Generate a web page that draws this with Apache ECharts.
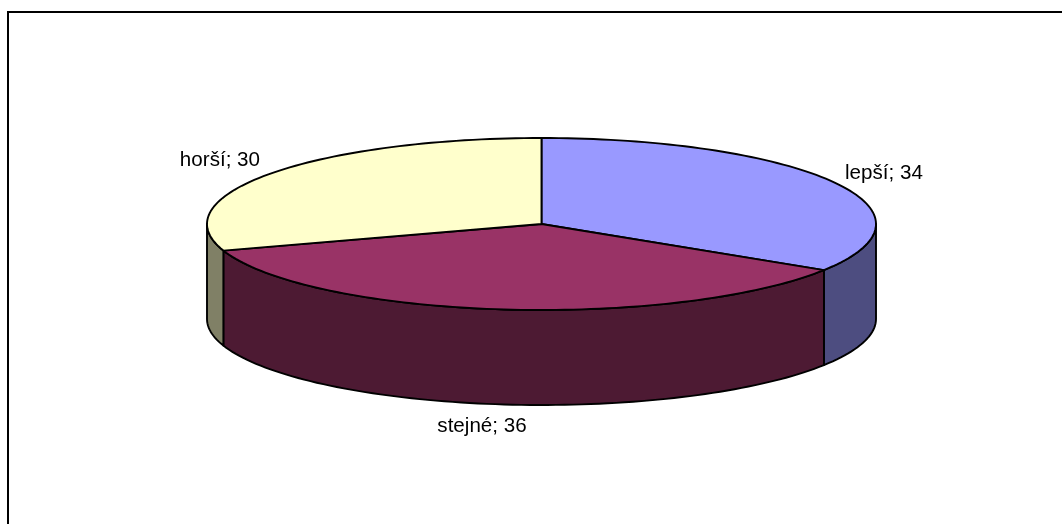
<!DOCTYPE html>
<html><head><meta charset="utf-8">
<style>html,body{margin:0;padding:0;background:#fff}#c{width:1062px;height:524px}</style>
<script src="https://cdn.jsdelivr.net/npm/echarts@6/dist/echarts.min.js"></script>
</head><body><div id="c"></div>
<script>
const categories = ['lepší', 'stejné', 'horší'];
const values = [34, 36, 30];
const topColors = ['#9999ff', '#993366', '#ffffcc'];
const sideColors = ['#4d4d80', '#4d1a33', '#808066'];
const labelAnchors = [[845, 173, 'left'], [482, 426, 'center'], [260, 160, 'right']];

const cx = 541.5, cy = 224, rx = 334.5, ry = 86, depth = 95;
const total = values.reduce((a, b) => a + b, 0);
const starts = [];
values.reduce((acc, v, i) => { starts[i] = acc; return acc + v; }, 0);
const pt = (deg, dy) => {
  const t = deg * Math.PI / 180;
  return [cx + rx * Math.sin(t), cy - ry * Math.cos(t) + (dy || 0)];
};
const arc = (a, b, dy) => {
  const n = Math.max(2, Math.ceil(Math.abs(b - a) / 1.5)), out = [];
  for (let i = 0; i <= n; i++) out.push(pt(a + (b - a) * i / n, dy));
  return out;
};
const line = { stroke: '#000', lineWidth: 1.9, lineJoin: 'round' };

function renderItem(params, api) {
  const i = params.dataIndex;
  const a = starts[i] / total * 360, b = a + api.value(1) / total * 360;
  const children = [];
  const sa = Math.max(a, 90), sb = Math.min(b, 270);
  if (sb > sa) {
    children.push({
      type: 'polygon',
      shape: { points: arc(sa, sb, 0).concat(arc(sb, sa, depth)) },
      style: Object.assign({ fill: sideColors[i] }, line)
    });
  }
  children.push({
    type: 'polygon',
    shape: { points: [[cx, cy]].concat(arc(a, b, 0)) },
    style: Object.assign({ fill: topColors[i] }, line)
  });
  const l = labelAnchors[i];
  children.push({
    type: 'text',
    style: {
      x: l[0], y: l[1], text: categories[i] + '; ' + api.value(1),
      fill: '#000', font: '20.6px "Liberation Sans", Arial, sans-serif',
      textAlign: l[2], textVerticalAlign: 'middle'
    }
  });
  return { type: 'group', children };
}

const chart = echarts.init(document.getElementById('c'), null, { renderer: 'canvas' });
chart.setOption({
  animation: false,
  backgroundColor: '#ffffff',
  graphic: [{
    type: 'rect', silent: true, z: -1,
    shape: { x: 8, y: 12, width: 1100, height: 600 },
    style: { fill: '#fff', stroke: '#000', lineWidth: 2 }
  }],
  series: [{
    type: 'custom',
    coordinateSystem: 'none',
    renderItem,
    data: categories.map((c, i) => ({ name: c, value: [i, values[i]] }))
  }]
});
</script></body></html>
